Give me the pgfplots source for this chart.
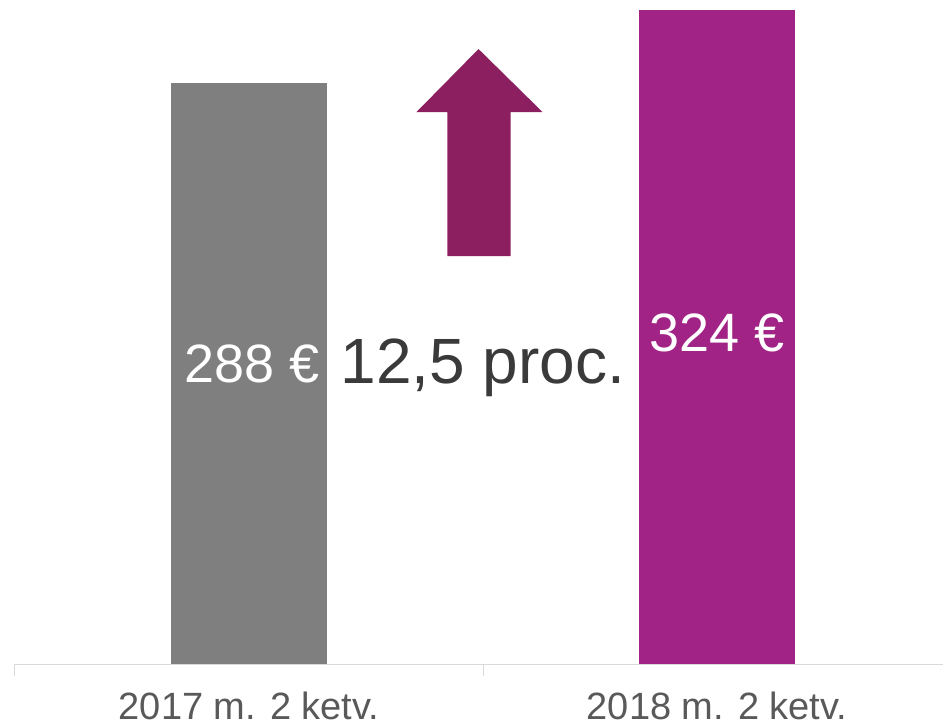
\documentclass[border=0pt]{standalone}
\usepackage{pgfplots}
\pgfplotsset{compat=1.18}
\usepackage{fontspec}
\setmainfont{Liberation Sans}
\definecolor{bargray}{HTML}{7F7F7F}
\definecolor{barpurple}{HTML}{A12385}
\definecolor{arrowc}{HTML}{8B1F5F}
\definecolor{txtdark}{HTML}{3A3A3A}
\definecolor{ticktxt}{HTML}{595959}
\definecolor{axline}{HTML}{D9D9D9}
\begin{document}
\begin{tikzpicture}[x=1pt,y=1pt]
\begin{axis}[
  at={(0,0)}, anchor=south west,
  scale only axis, width=936pt, height=664pt,
  xmin=-0.5, xmax=1.5, ymin=0, ymax=329,
  axis x line*=bottom, axis y line=none,
  x axis line style={draw=axline, line width=1pt, -},
  xtick={0,1}, xticklabels={2017 m. 2 ketv., 2018 m. 2 ketv.},
  major tick length=0pt,
  extra x ticks={-0.5,0.5,1.5}, extra x tick labels={},
  extra x tick style={major tick length=12pt, tick align=outside, tick style={draw=axline, line width=1pt}},
  xticklabel style={font=\fontsize{38}{40}\selectfont, text=ticktxt, anchor=base, yshift=-55pt},
  ybar, bar width=0.335, bar shift=0pt,
  clip=false,
]
\addplot[fill=bargray, draw=none] coordinates {(0,288)};
\addplot[fill=barpurple, draw=none] coordinates {(1,324)};
\fill[arrowc] (axis cs:0.4241,202.1) -- (axis cs:0.5588,202.1) -- (axis cs:0.5588,273.5)
  -- (axis cs:0.6271,273.5) -- (axis cs:0.4904,304.7) -- (axis cs:0.3579,273.5)
  -- (axis cs:0.4241,273.5) -- cycle;
\node[anchor=base, text=white, font=\fontsize{54}{56}\selectfont] at (axis cs:0.006,139.7) {288 €};
\node[anchor=base, text=white, font=\fontsize{54}{56}\selectfont] at (axis cs:1.0,154.6) {324 €};
\node[anchor=base, text=txtdark, font=\fontsize{64}{66}\selectfont] at (axis cs:0.5,139.2) {12,5 proc.};
\end{axis}
\pgfresetboundingbox
\path (-15pt,-62pt) rectangle (928pt,664pt);
\end{tikzpicture}
\end{document}
